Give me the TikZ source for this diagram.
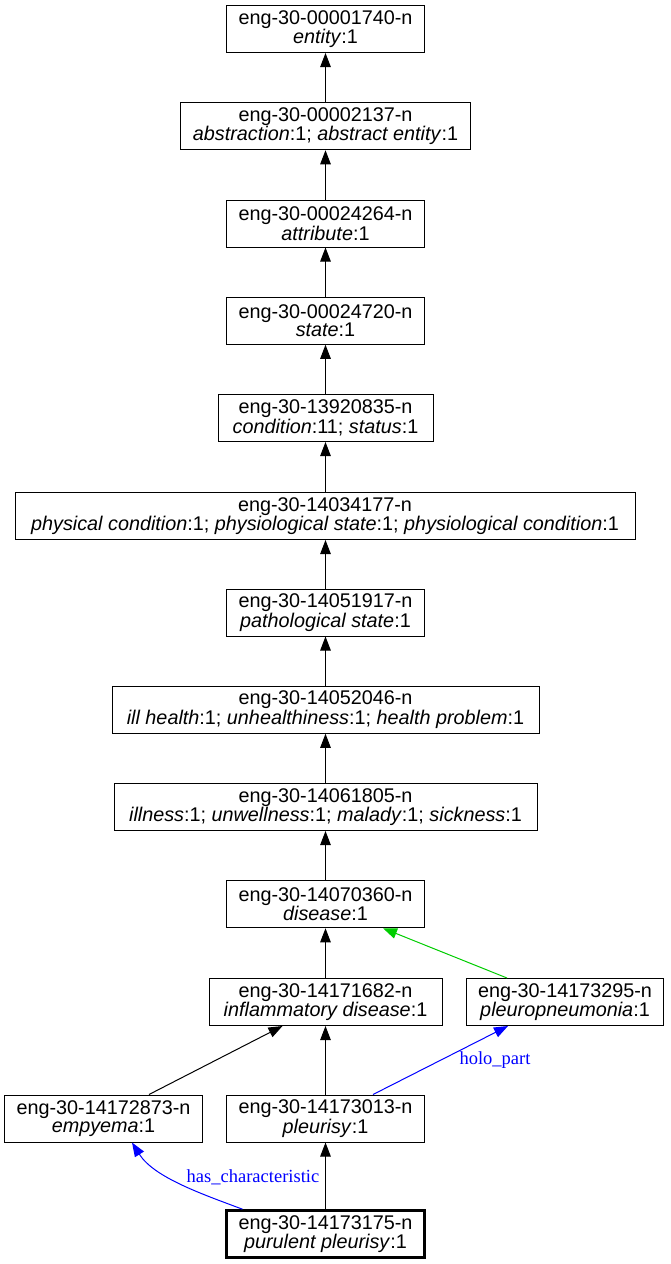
\documentclass[tikz,border=0pt]{standalone}
\usepackage{fontspec}
\setmainfont{Liberation Sans}
\newfontfamily\relfont{Liberation Serif}
\usetikzlibrary{arrows.meta}
\definecolor{green3}{RGB}{0,205,0}

\begin{document}
\begin{tikzpicture}[x=1pt,y=-1pt,
            syn/.style={draw,line width=1pt,align=center,minimum width=196pt,minimum height=47pt,
                inner xsep=12pt,inner ysep=0pt,font=\fontsize{19.8}{17.5}\selectfont},
            hyp/.style={-{Triangle[length=14pt,width=10.5pt]},line width=1pt},
            rel/.style={hyp,blue},
            rellabel/.style={font=\relfont\fontsize{18.5}{20}\selectfont,text=blue,inner sep=0pt}]
            \useasboundingbox (0,0) rectangle (670,1264);
            \node [syn] (entity) at (325.5,29) {eng-30-00001740-n\\\textit{entity}:1};
            \node [syn,minimum width=288pt] (abstraction) at (325.5,126.25) {eng-30-00002137-n\\\textit{abstraction}:1; \textit{abstract entity}:1};
            \node [syn] (attribute) at (325.5,223.5) {eng-30-00024264-n\\\textit{attribute}:1};
            \node [syn] (state) at (325.5,320.75) {eng-30-00024720-n\\\textit{state}:1};
            \node [syn,minimum width=215pt] (condition) at (325.5,418) {eng-30-13920835-n\\\textit{condition}:11; \textit{status}:1};
            \node [syn,minimum width=620pt] (physical) at (325,516) {eng-30-14034177-n\\\textit{physical condition}:1; \textit{physiological state}:1; \textit{physiological condition}:1};
            \node [syn] (pathological) at (325.5,612.5) {eng-30-14051917-n\\\textit{pathological state}:1};
            \node [syn,minimum width=427pt] (illhealth) at (325.5,709.75) {eng-30-14052046-n\\\textit{ill health}:1; \textit{unhealthiness}:1; \textit{health problem}:1};
            \node [syn,minimum width=423pt] (illness) at (325.5,807) {eng-30-14061805-n\\\textit{illness}:1; \textit{unwellness}:1; \textit{malady}:1; \textit{sickness}:1};
            \node [syn] (disease) at (325.5,904.25) {eng-30-14070360-n\\\textit{disease}:1};
            \node [syn,minimum width=233pt] (inflam) at (325.5,1002) {eng-30-14171682-n\\\textit{inflammatory disease}:1};
            \node [syn] (pleuro) at (565,1002) {eng-30-14173295-n\\\textit{pleuropneumonia}:1};
            \node [syn] (empyema) at (103.5,1118.5) {eng-30-14172873-n\\\textit{empyema}:1};
            \node [syn] (pleurisy) at (325.5,1118.5) {eng-30-14173013-n\\\textit{pleurisy}:1};
            \node [syn,line width=2.6pt] (purulent) at (325.5,1234) {eng-30-14173175-n\\\textit{purulent pleurisy}:1};
            \node [rellabel] (holo) at (495,1060) {holo\_part};
            \node [rellabel] (hasch) at (253,1177) {has\_characteristic};

            \draw [hyp] (abstraction) -- (entity);
            \draw [hyp] (attribute) -- (abstraction);
            \draw [hyp] (state) -- (attribute);
            \draw [hyp] (condition) -- (state);
            \draw [hyp] (physical.north -| condition) -- (condition);
            \draw [hyp] (pathological) -- (physical.south -| pathological);
            \draw [hyp] (illhealth) -- (pathological);
            \draw [hyp] (illness) -- (illhealth);
            \draw [hyp] (disease) -- (illness);
            \draw [hyp] (inflam) -- (disease);
            \draw [hyp,green3] ([xshift=-58pt]pleuro.north) -- ([xshift=57.5pt]disease.south);
            \draw [hyp] ([xshift=45.5pt]empyema.north) -- ([xshift=-43pt]inflam.south);
            \draw [hyp] (pleurisy) -- (inflam);
            \draw [rel] ([xshift=47.5pt]pleurisy.north) -- ([xshift=-57pt]pleuro.south);
            \draw [hyp] (purulent) -- (pleurisy);
            \draw [rel] ([xshift=-83pt]purulent.north) .. controls +(-40,-15) and +(22,35) .. ([xshift=28.5pt]empyema.south);
        \end{tikzpicture}
\end{document}
